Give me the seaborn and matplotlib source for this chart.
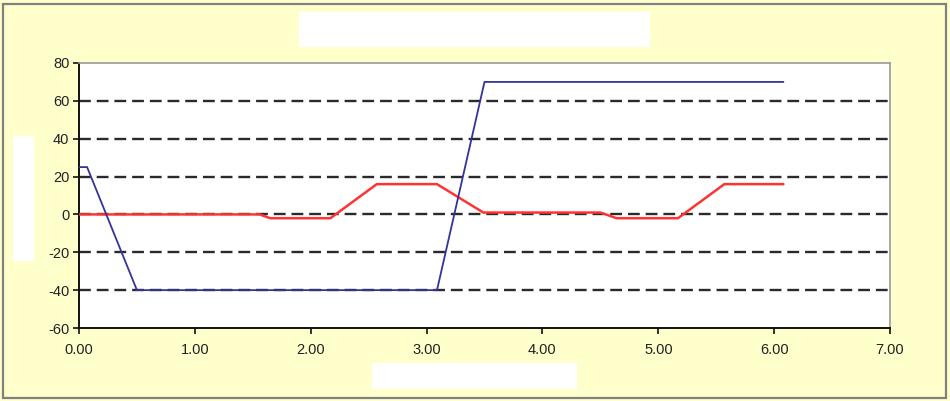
import matplotlib
matplotlib.use("Agg")
import matplotlib.pyplot as plt
import seaborn as sns
import pandas as pd
from matplotlib.patches import Rectangle

# Data
blue_x = [0.00, 0.07, 0.50, 3.09, 3.50, 6.08]
blue_y = [25, 25, -40, -40, 70, 70]
red_x = [0.00, 1.56, 1.65, 2.17, 2.57, 3.09, 3.49, 4.50, 4.64, 5.17, 5.57, 6.08]
red_y = [0, 0, -2, -2, 16, 16, 1, 1, -2, -2, 16, 16]
x_ticks = [0, 1, 2, 3, 4, 5, 6, 7]
x_tick_labels = ["0.00", "1.00", "2.00", "3.00", "4.00", "5.00", "6.00", "7.00"]
y_ticks = [-60, -40, -20, 0, 20, 40, 60, 80]

sns.set_style("white")
plt.rcParams['font.family'] = ['Liberation Sans', 'DejaVu Sans']
plt.rcParams['axes.unicode_minus'] = False

W, H = 950, 401
fig = plt.figure(figsize=(W / 100, H / 100), dpi=100)
fig.patch.set_facecolor("#FFFFCC")

# outer border
fig.patches.append(Rectangle((3 / W, 3 / H), (946 - 3) / W, (397 - 3) / H,
                             transform=fig.transFigure, fill=False,
                             edgecolor="#808080", linewidth=1.6))

# placeholder boxes (title, y label, x label)
for (x0, y0, x1, y1) in [(299, 12, 650, 47), (13, 136, 34, 261), (372, 363, 577, 389)]:
    fig.patches.append(Rectangle((x0 / W, 1 - y1 / H), (x1 - x0) / W, (y1 - y0) / H,
                                 transform=fig.transFigure, facecolor="white",
                                 edgecolor="none"))

left, right, top, bottom = 79, 890, 63, 328
ax = fig.add_axes([left / W, 1 - bottom / H, (right - left) / W, (bottom - top) / H])
ax.set_facecolor("white")

df_blue = pd.DataFrame({"x": blue_x, "y": blue_y})
df_red = pd.DataFrame({"x": red_x, "y": red_y})

for yv in [60, 40, 20, 0, -20, -40]:
    ax.axhline(yv, color="#2a2a2a", linestyle=(0, (5, 2.5)), linewidth=1.7, zorder=1)

sns.lineplot(data=df_red, x="x", y="y", ax=ax, color="#FF3333", linewidth=1.8,
             estimator=None, sort=False, zorder=3)
sns.lineplot(data=df_blue, x="x", y="y", ax=ax, color="#333399", linewidth=1.3,
             estimator=None, sort=False, zorder=4)

ax.set_xlim(0, 7)
ax.set_ylim(-60, 80)
ax.set_xticks(x_ticks)
ax.set_xticklabels(x_tick_labels)
ax.set_yticks(y_ticks)
ax.set_xlabel("")
ax.set_ylabel("")

for s in ["top", "right"]:
    ax.spines[s].set_color("#999999")
    ax.spines[s].set_linewidth(1.2)
for s in ["left", "bottom"]:
    ax.spines[s].set_color("#111111")
    ax.spines[s].set_linewidth(1.4)

ax.tick_params(axis="both", direction="out", length=4, width=1.2, color="#111111",
               labelsize=10.5, labelcolor="#222222", pad=3, left=True, bottom=True)
ax.tick_params(axis="x", pad=7)

fig.savefig("out.png", dpi=100, facecolor=fig.get_facecolor())
